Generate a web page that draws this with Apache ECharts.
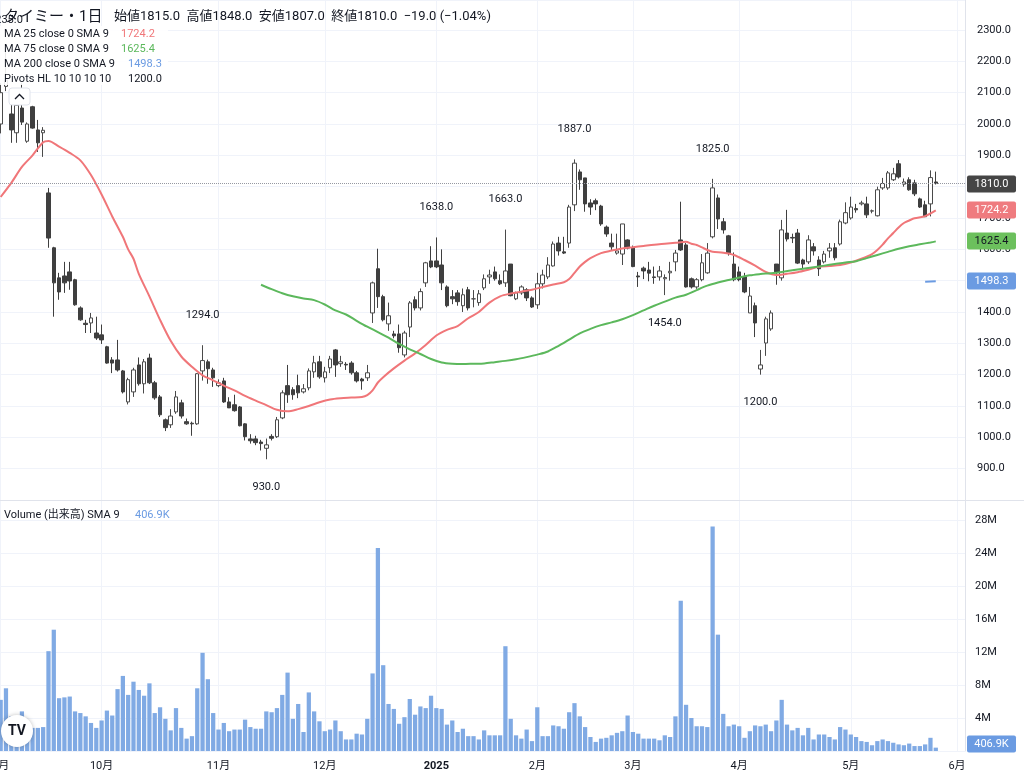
<!DOCTYPE html>
<html><head><meta charset="utf-8">
<script src="https://cdn.jsdelivr.net/npm/echarts@6/dist/echarts.min.js"></script>
<style>html,body{margin:0;padding:0;background:#fff}#c{width:1024px;height:776px}</style>
</head><body><div id="c"></div>
<script>
// ---- trading days (Tokyo) ----
const sep24 = [2,3,4,5,6,9,10,11,12,13,17,18,19,20,24,25,26,27,30];
const oct24 = [1,2,3,4,7,8,9,10,11,15,16,17,18,21,22,23,24,25,28,29,30,31];
const nov24 = [1,5,6,7,8,11,12,13,14,15,18,19,20,21,22,25,26,27,28,29];
const dec24 = [2,3,4,5,6,9,10,11,12,13,16,17,18,19,20,23,24,25,26,27,30];
const jan25 = [6,7,8,9,10,14,15,16,17,20,21,22,23,24,27,28,29,30,31];
const feb25 = [3,4,5,6,7,10,12,13,14,17,18,19,20,21,25,26,27,28];
const mar25 = [3,4,5,6,7,10,11,12,13,14,17,18,19,21,24,25,26,27,28,31];
const apr25 = [1,2,3,4,7,8,9,10,11,14,15,16,17,18,21,22,23,24,25,28,30];
const may25 = [1,2,7,8,9,12,13,14,15,16,19,20,21,22,23,26,27,28,29,30];
const jun25 = [2,3];
const monthKeys = ['2024/09','2024/10','2024/11','2024/12','2025/01','2025/02','2025/03','2025/04','2025/05','2025/06'];
const monthDays = [sep24,oct24,nov24,dec24,jan25,feb25,mar25,apr25,may25,jun25];
const monthLabels = ['9月','10月','11月','12月','2025','2月','3月','4月','5月','6月'];

// ---- OHLC ----
const open = [2000,2120,2032,1972,2051,1945,2055,1981,1972,1780, 1605,1509,1515,1528,1503,1413,1364,1365,1333,1327, 1289,1247,1247,1212,1113,1145,1231,1171,1253,1174, 1129,1056,1040,1081,1110,1050,1045,1043,1212,1241, 1215,1165,1180,1113,1104,1097,1043,995,995,985, 965,1003,1002,1062,1165,1152,1165,1145,1158,1209, 1241,1190,1222,1279,1235,1233,1237,1206,1186,1190, 1397,1538,1449,1362,1330,1330,1263,1352,1439,1413, 1493,1563,1563,1550,1480,1449,1461,1420,1471,1442, 1430,1477,1512,1528,1500,1493,1553,1442,1461,1471, 1445,1423,1490,1512,1547,1620,1592,1620,1742,1847, 1828,1748,1755,1738,1671,1620,1588,1585,1630,1604, 1515,1540,1534,1512,1512,1506,1525,1560,1630,1614, 1506,1480,1503,1525,1640,1764,1688,1643,1553,1528, 1512,1397,1420,1218,1301,1346,1553,1509,1652,1638, 1652,1566,1560,1608,1566,1560,1595,1605,1617,1684, 1700,1730,1745,1745,1722,1707,1796,1796,1822,1873, 1808,1822,1812,1761,1742,1745,1815];
const high = [2130,2235,2061,2075,2130,2005,2058,2013,1990,1796, 1608,1525,1560,1560,1506,1418,1375,1397,1385,1360, 1292,1256,1311,1215,1190,1222,1255,1250,1267,1180, 1135,1060,1090,1148,1120,1060,1050,1205,1294,1248, 1222,1185,1190,1128,1136,1100,1045,1010,1005,992, 996,1010,1065,1150,1231,1160,1200,1170,1220,1260, 1260,1225,1260,1282,1260,1240,1243,1212,1190,1231, 1497,1602,1455,1430,1340,1360,1340,1435,1450,1475, 1560,1610,1638,1600,1485,1470,1470,1475,1480,1470, 1470,1520,1535,1545,1520,1663,1553,1465,1485,1476, 1450,1525,1535,1575,1625,1640,1640,1742,1887,1855, 1828,1760,1762,1742,1676,1650,1650,1681,1632,1612, 1528,1545,1560,1545,1547,1520,1560,1598,1752,1620, 1510,1508,1585,1620,1825,1775,1700,1646,1590,1545, 1525,1480,1430,1279,1385,1405,1553,1694,1726,1650, 1665,1570,1645,1620,1578,1595,1620,1620,1695,1750, 1768,1745,1755,1768,1727,1800,1828,1850,1860,1885, 1826,1830,1822,1765,1755,1852,1848];
const low = [1970,2105,1940,1940,1997,1940,1985,1911,1895,1605, 1385,1439,1461,1471,1420,1372,1333,1333,1311,1298, 1235,1205,1210,1140,1105,1129,1165,1140,1170,1120, 1065,1020,1030,1075,1060,1040,1005,1040,1181,1171, 1161,1160,1110,1094,1082,1035,990,980,975,958, 930,990,998,1058,1110,1120,1125,1140,1150,1190, 1187,1175,1205,1193,1225,1215,1200,1175,1152,1180, 1365,1413,1370,1340,1316,1270,1255,1320,1405,1405, 1480,1540,1540,1470,1415,1425,1420,1400,1405,1415, 1420,1470,1490,1500,1486,1480,1450,1438,1455,1435, 1413,1410,1475,1505,1545,1580,1585,1605,1722,1790, 1720,1710,1725,1675,1640,1598,1583,1550,1600,1543, 1480,1505,1498,1490,1500,1454,1500,1530,1595,1478, 1475,1474,1498,1522,1635,1665,1650,1580,1498,1498, 1460,1397,1320,1200,1260,1340,1487,1500,1625,1620, 1553,1540,1553,1580,1515,1555,1573,1565,1612,1680, 1695,1717,1740,1700,1715,1705,1790,1790,1818,1826, 1800,1787,1770,1732,1703,1705,1807];
const close = [2100,2140,1981,2060,2006,2000,1987,1940,1980,1636, 1493,1464,1493,1499,1423,1375,1360,1381,1317,1311, 1237,1237,1215,1145,1184,1215,1171,1241,1174,1126, 1072,1031,1068,1129,1068,1043,1043,1203,1245,1219, 1190,1174,1113,1094,1085,1037,1002,989,983,980, 976,997,1056,1142,1136,1136,1142,1155,1212,1238, 1193,1209,1250,1231,1241,1231,1206,1180,1180,1206, 1493,1449,1375,1388,1324,1286,1333,1429,1413,1465, 1557,1544,1544,1493,1420,1442,1433,1455,1413,1442, 1458,1506,1518,1506,1490,1531,1452,1461,1480,1445, 1416,1490,1518,1550,1617,1595,1588,1735,1875,1822, 1745,1735,1745,1681,1649,1608,1595,1681,1604,1545, 1512,1531,1524,1510,1531,1510,1530,1588,1598,1480, 1480,1503,1557,1588,1796,1697,1662,1589,1503,1503, 1464,1451,1365,1231,1378,1397,1528,1662,1633,1636, 1556,1553,1630,1595,1538,1585,1604,1573,1688,1717, 1735,1726,1748,1710,1723,1790,1810,1844,1841,1831, 1815,1790,1777,1735,1704,1829,1810];

// ---- volume (millions of shares) ----
const volumeM = [6.2,7.6,4.2,3.8,4.8,3.2,2.8,2.8,2.9,12.1, 14.7,6.4,6.5,6.6,4.8,4.6,4.2,3.4,2.8,3.7, 4.9,4.3,7.5,9.1,6.8,8.4,7.4,6.7,8.2,4.6, 5.3,3.9,2.5,5.2,2.8,1.5,1.8,7.6,11.9,8.7, 4.6,2.6,3.4,2.4,2.6,2.6,3.8,2.9,2.7,2.7, 4.8,4.7,5.2,6.8,9.5,3.9,5.7,2.3,7.1,4.8, 3.6,2.4,2.6,3.7,2.4,1.4,1.4,2.1,2.0,3.9, 9.4,24.6,10.4,5.7,5.1,3.3,4.1,6.3,4.4,5.4, 5.2,6.7,5.2,5.1,3.2,3.7,2.3,2.7,1.8,1.8, 1.4,2.5,1.9,1.9,1.9,12.7,3.9,1.9,1.5,2.6, 1.2,5.3,1.8,1.8,3.1,3.0,2.7,4.7,5.8,4.2, 2.9,1.7,1.1,1.5,1.6,1.9,2.2,2.4,4.3,2.3, 2.1,1.5,1.5,1.5,1.3,1.9,1.7,4.2,18.2,5.6, 4.0,3.0,3.0,2.9,27.2,14.1,4.5,3.0,3.2,3.0, 1.6,2.4,3.1,3.0,3.2,2.4,3.7,6.2,3.2,2.5, 2.8,1.9,2.8,1.4,2.0,2.0,1.7,1.4,2.9,2.6, 2.0,1.7,1.2,1.1,0.7,1.2,1.4,1.2,1.0,0.8, 0.7,0.9,0.6,0.6,0.8,1.6,0.4069];

// ---- moving averages: [bar index, value] ----
const ma25 = [[0,1767],[2,1812],[4,1863],[6,1900],[8,1942],[9,1946],[11,1928],[13,1908],[15,1884],[17,1837],[19,1775],[21,1705],[23,1640],[24,1600],[25,1570],[26,1522],[28,1450],[30,1375],[32,1308],[34,1258],[36,1225],[38,1198],[40,1182],[42,1165],[44,1150],[46,1132],[48,1117],[50,1103],[52,1088],[54,1083],[56,1090],[58,1100],[60,1112],[62,1121],[64,1125],[66,1127],[68,1129],[69,1135],[70,1150],[71,1175],[72,1192],[74,1220],[76,1245],[78,1268],[80,1295],[82,1325],[84,1343],[86,1355],[88,1380],[90,1400],[92,1430],[94,1450],[96,1459],[98,1465],[100,1471],[102,1480],[104,1488],[106,1495],[107,1505],[108,1525],[109,1545],[110,1560],[111,1572],[113,1588],[115,1596],[117,1603],[119,1607],[121,1611],[123,1615],[125,1618],[127,1621],[129,1624],[130,1618],[131,1614],[132,1606],[133,1598],[134,1592],[136,1589],[138,1582],[140,1566],[142,1548],[144,1528],[146,1518],[148,1522],[150,1527],[152,1535],[154,1544],[156,1547],[158,1550],[160,1558],[162,1570],[164,1585],[165,1598],[166,1615],[167,1635],[168,1652],[169,1670],[170,1684],[171,1692],[172,1699],[174,1706],[176,1724.2]];
const ma75 = [[49,1487],[51,1473],[53,1460],[55,1450],[57,1443],[59,1438],[61,1424],[63,1405],[65,1392],[67,1372],[69,1353],[71,1336],[73,1318],[75,1298],[77,1281],[79,1266],[81,1250],[83,1239],[85,1235],[87,1234],[89,1235],[91,1236],[93,1240],[95,1244],[97,1249],[99,1256],[101,1264],[103,1274],[105,1292],[107,1312],[109,1332],[111,1346],[113,1358],[115,1367],[117,1377],[119,1390],[121,1405],[123,1420],[125,1433],[127,1446],[129,1455],[131,1470],[133,1484],[135,1494],[137,1502],[139,1510],[141,1517],[143,1521],[145,1524],[147,1528],[149,1533],[151,1538],[153,1543],[155,1548],[157,1553],[159,1558],[161,1562],[163,1572],[165,1582],[167,1592],[169,1602],[171,1610],[173,1616],[175,1622],[176,1625.4]];
const ma200 = [[174,1496.8],[175,1497.6],[176,1498.3]];

// ---- pivots ----
const pivotHighIdx = [1,38,82,95,108,134];
const pivotHighVal = [2235,1294,1638,1663,1887,1825];
const pivotLowIdx = [50,125,143];
const pivotLowVal = [930,1454,1200];

// ---- last values ----
const lastClose = 1810, lastMA25 = 1724.2, lastMA75 = 1625.4, lastMA200 = 1498.3, lastVolM = 0.4069;

// ---- build categories ----
const cats = [];
const tickLabelByIndex = {};
monthDays.forEach((days, m) => {
  days.forEach((d, k) => {
    if (k === 0) tickLabelByIndex[cats.length] = monthLabels[m];
    cats.push(monthKeys[m] + '/' + String(d).padStart(2, '0'));
  });
});

const FONT = 'Roboto, "Noto Sans CJK JP", sans-serif';
const FS = 11;
const TXT = '#131722';
const RED = '#f07679', GREEN = '#5cb85c', BLUE = '#6b9be2', VOL = '#80aae4';
const GRIDLINE = '#f0f3fa', BORDER = '#e0e3eb';

const chart = echarts.init(document.getElementById('c'), null, {renderer: 'canvas', width: 1024, height: 776});

const isTick = (i) => tickLabelByIndex[i] !== undefined;

const pivotData = [];
pivotHighIdx.forEach((idx, k) => pivotData.push({coord: [cats[idx], pivotHighVal[k]], value: pivotHighVal[k], label: {formatter: pivotHighVal[k].toFixed(1), offset: [0, -30]}}));
pivotLowIdx.forEach((idx, k) => pivotData.push({coord: [cats[idx], pivotLowVal[k]], value: pivotLowVal[k], label: {formatter: pivotLowVal[k].toFixed(1), offset: [0, 28]}}));

const xBase = {
  type: 'category', data: cats, boundaryGap: true,
  axisLine: {show: false}, axisTick: {show: false, alignWithLabel: true},
  splitLine: {show: true, alignWithLabel: true, interval: (i) => isTick(i), lineStyle: {color: GRIDLINE, width: 1}}
};

const option = {
  animation: false,
  backgroundColor: '#ffffff',
  textStyle: {fontFamily: FONT},
  grid: [
    {left: -2, top: 0, width: 967, height: 500, containLabel: false, outerBoundsMode: 'none'},
    {left: -2, top: 500, width: 967, height: 251, containLabel: false, outerBoundsMode: 'none'}
  ],
  xAxis: [
    Object.assign({}, xBase, {gridIndex: 0, axisLabel: {show: false}}),
    Object.assign({}, xBase, {gridIndex: 1, axisLabel: {show: true, interval: (i) => isTick(i), margin: 10, color: TXT, fontSize: FS, fontFamily: FONT,
      formatter: (v, i) => { const l = tickLabelByIndex[i] || ''; return /^\d{4}$/.test(l) ? '{b|' + l + '}' : l; },
      rich: {b: {fontWeight: 'bold', fontSize: FS, color: TXT, fontFamily: FONT}}}})
  ],
  yAxis: [
    {type: 'value', gridIndex: 0, position: 'right', min: 800, max: 2395.74, interval: 100,
      axisLine: {show: true, lineStyle: {color: BORDER}}, axisTick: {show: false},
      axisLabel: {margin: 12, color: TXT, fontSize: FS, fontFamily: FONT,
        formatter: (v) => (v >= 900 && v <= 2300 && Math.abs(v / 100 - Math.round(v / 100)) < 1e-6) ? v.toFixed(1) : ''},
      splitLine: {lineStyle: {color: GRIDLINE}}},
    {type: 'value', gridIndex: 1, position: 'right', min: 0, max: 30.42, interval: 4,
      axisLine: {show: true, lineStyle: {color: BORDER}}, axisTick: {show: false},
      axisLabel: {margin: 10, color: TXT, fontSize: FS, fontFamily: FONT,
        formatter: (v) => (v > 0 && v <= 28 && Math.abs(v / 4 - Math.round(v / 4)) < 1e-6) ? Math.round(v) + 'M' : ''},
      splitLine: {lineStyle: {color: GRIDLINE}}}
  ],
  series: [
    {type: 'candlestick', name: 'price', xAxisIndex: 0, yAxisIndex: 0, barWidth: 4,
      data: open.map((o, i) => [o, close[i], low[i], high[i]]),
      itemStyle: {color: '#ffffff', color0: '#3f3f3f', borderColor: '#4a4a4a', borderColor0: '#3f3f3f', borderWidth: 1},
      markLine: {silent: true, symbol: ['none', 'none'], label: {show: false},
        lineStyle: {type: 'dotted', color: '#9598a1', width: 1}, data: [{yAxis: lastClose}]},
      markPoint: {silent: true, symbol: 'rect', symbolSize: 0,
        label: {show: true, position: 'inside', color: TXT, fontSize: FS, fontFamily: FONT},
        data: pivotData}},
    {type: 'line', name: 'MA25', xAxisIndex: 0, yAxisIndex: 0, data: ma25, smooth: 0.3, showSymbol: false, symbol: 'none',
      lineStyle: {color: RED, width: 2}, z: 3},
    {type: 'line', name: 'MA75', xAxisIndex: 0, yAxisIndex: 0, data: ma75, smooth: 0.3, showSymbol: false, symbol: 'none',
      lineStyle: {color: GREEN, width: 2}, z: 3},
    {type: 'line', name: 'MA200', xAxisIndex: 0, yAxisIndex: 0, data: ma200, smooth: false, showSymbol: false, symbol: 'none',
      lineStyle: {color: BLUE, width: 2}, z: 3},
    {type: 'bar', name: 'Volume', xAxisIndex: 1, yAxisIndex: 1, data: volumeM, barCategoryGap: '20%',
      itemStyle: {color: VOL}}
  ]
};
chart.setOption(option);

// ---- overlay: price tags, legends, separators ----
function tag(y, text, bg, fg) {
  const cy = Math.round(y);
  return [
    {type: 'rect', z: 300, shape: {x: 967, y: cy - 8.5, width: 49, height: 17, r: 2}, style: {fill: bg}},
    {type: 'text', z: 301, style: {x: 991.5, y: cy, text: text, fill: fg, font: FS + 'px ' + FONT, align: 'center', verticalAlign: 'middle'}}
  ];
}
const py = (v) => chart.convertToPixel({yAxisIndex: 0}, v);
const vy = (v) => chart.convertToPixel({yAxisIndex: 1}, v);
function txt(x, y, s, color, size, weight) {
  return {type: 'text', z: 210, style: {x: x, y: y, text: s, fill: color, font: (weight || 'normal') + ' ' + size + 'px ' + FONT, verticalAlign: 'middle'}};
}
const g = [
  {type: 'line', z: 150, shape: {x1: 0, y1: 500.5, x2: 1024, y2: 500.5}, style: {stroke: BORDER, lineWidth: 1}},
  {type: 'rect', z: 190, shape: {x: 0, y: 26, width: 168, height: 59}, style: {fill: 'rgba(255,255,255,0.88)'}},
  txt(4, 17, 'タイミー・1日', TXT, 15),
  txt(114, 17, '始値1815.0  高値1848.0  安値1807.0  終値1810.0  −19.0 (−1.04%)', TXT, 13),
  txt(4, 34, 'MA 25 close 0 SMA 9', TXT, FS), txt(121, 34, lastMA25.toFixed(1), RED, FS),
  txt(4, 49, 'MA 75 close 0 SMA 9', TXT, FS), txt(121, 49, lastMA75.toFixed(1), GREEN, FS),
  txt(4, 64, 'MA 200 close 0 SMA 9', TXT, FS), txt(128, 64, lastMA200.toFixed(1), BLUE, FS),
  txt(4, 79, 'Pivots HL 10 10 10 10', TXT, FS), txt(128, 79, '1200.0', TXT, FS),
  {type: 'rect', z: 200, shape: {x: 9, y: 88, width: 21, height: 17, r: 3}, style: {fill: '#fff', stroke: BORDER, lineWidth: 1}},
  {type: 'polyline', z: 201, shape: {points: [[15, 99], [19.5, 94.5], [24, 99]]}, style: {stroke: TXT, lineWidth: 1.3, fill: null}},
  txt(4, 515, 'Volume (出来高) SMA 9', TXT, FS), txt(135, 515, '406.9K', BLUE, FS),
  {type: 'circle', z: 200, shape: {cx: 17, cy: 731, r: 16}, style: {fill: '#fff', shadowBlur: 4, shadowColor: 'rgba(0,0,0,0.25)'}},
  {type: 'text', z: 201, style: {x: 17, y: 731, text: 'TV', fill: TXT, font: 'bold 14px ' + FONT, align: 'center', verticalAlign: 'middle'}}
].concat(
  tag(py(lastClose), lastClose.toFixed(1), '#454545', '#ffffff'),
  tag(py(lastMA25), lastMA25.toFixed(1), '#ef7b7f', '#ffffff'),
  tag(py(lastMA75), lastMA75.toFixed(1), '#6cc05d', TXT),
  tag(py(lastMA200), lastMA200.toFixed(1), BLUE, '#ffffff'),
  tag(Math.min(vy(lastVolM), 744), '406.9K', BLUE, '#ffffff')
);
chart.setOption({graphic: g});
</script></body></html>
